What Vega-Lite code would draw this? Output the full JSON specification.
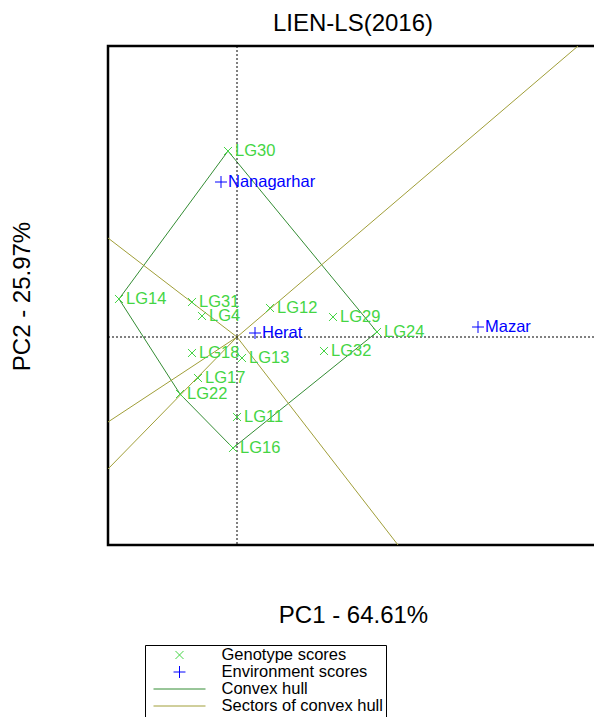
{
  "$schema": "https://vega.github.io/schema/vega-lite/v6.json",
  "width": 490,
  "height": 499,
  "autosize": {"type": "none"},
  "padding": {"left": 108, "top": 46, "right": 0, "bottom": 172},
  "title": {"text": "LIEN-LS(2016)", "fontSize": 24, "font": "Liberation Sans", "fontWeight": "normal", "anchor": "middle", "baseline": "bottom", "frame": "group", "offset": 13, "dy": 27, "color": "black"},
  "config": {"view": {"stroke": "black", "strokeWidth": 2.5}, "font": "Liberation Sans", "legend": {"strokeWidth": 1}},
  "datasets": {
    "scores": [
      {"name": "LG30", "x": -0.18, "y": 3.72, "type": "Genotype scores"},
      {"name": "LG14", "x": -2.36, "y": 0.76, "type": "Genotype scores"},
      {"name": "LG31", "x": -0.90, "y": 0.70, "type": "Genotype scores"},
      {"name": "LG4", "x": -0.70, "y": 0.42, "type": "Genotype scores"},
      {"name": "LG12", "x": 0.66, "y": 0.58, "type": "Genotype scores"},
      {"name": "LG29", "x": 1.92, "y": 0.40, "type": "Genotype scores"},
      {"name": "LG24", "x": 2.80, "y": 0.10, "type": "Genotype scores"},
      {"name": "LG32", "x": 1.74, "y": -0.28, "type": "Genotype scores"},
      {"name": "LG18", "x": -0.90, "y": -0.32, "type": "Genotype scores"},
      {"name": "LG13", "x": 0.10, "y": -0.42, "type": "Genotype scores"},
      {"name": "LG17", "x": -0.78, "y": -0.82, "type": "Genotype scores"},
      {"name": "LG22", "x": -1.14, "y": -1.14, "type": "Genotype scores"},
      {"name": "LG11", "x": 0.00, "y": -1.60, "type": "Genotype scores"},
      {"name": "LG16", "x": -0.08, "y": -2.22, "type": "Genotype scores"},
      {"name": "Nanagarhar", "x": -0.32, "y": 3.10, "type": "Environment scores"},
      {"name": "Mazar", "x": 4.82, "y": 0.20, "type": "Environment scores"},
      {"name": "Herat", "x": 0.36, "y": 0.08, "type": "Environment scores"}
    ],
    "segments": [
      {"x": -0.18, "y": 3.72, "x2": 2.80, "y2": 0.10, "type": "Convex hull"},
      {"x": 2.80, "y": 0.10, "x2": -0.08, "y2": -2.22, "type": "Convex hull"},
      {"x": -0.08, "y": -2.22, "x2": -1.14, "y2": -1.14, "type": "Convex hull"},
      {"x": -1.14, "y": -1.14, "x2": -2.36, "y2": 0.76, "type": "Convex hull"},
      {"x": -2.36, "y": 0.76, "x2": -0.18, "y2": 3.72, "type": "Convex hull"},
      {"x": 0, "y": 0, "x2": 6.82, "y2": 5.82, "type": "Sectors of convex hull"},
      {"x": 0, "y": 0, "x2": -2.58, "y2": 1.98, "type": "Sectors of convex hull"},
      {"x": 0, "y": 0, "x2": -2.58, "y2": -1.70, "type": "Sectors of convex hull"},
      {"x": 0, "y": 0, "x2": -2.58, "y2": -2.64, "type": "Sectors of convex hull"},
      {"x": 0, "y": 0, "x2": 3.22, "y2": -4.16, "type": "Sectors of convex hull"}
    ]
  },
  "layer": [
    {
      "data": {"name": "segments"},
      "mark": {"type": "rule", "strokeWidth": 1, "clip": true},
      "encoding": {
        "x": {"field": "x", "type": "quantitative", "scale": {"domain": [-2.58, 7.22], "nice": false, "zero": false},
          "axis": {"title": "PC1 - 64.61%", "labels": false, "ticks": false, "domain": false, "grid": false, "titleFontSize": 24, "titleFont": "Liberation Sans", "titleFontWeight": "normal", "titleColor": "black", "titleBaseline": "alphabetic", "titleY": 77}},
        "y": {"field": "y", "type": "quantitative", "scale": {"domain": [-4.16, 5.82], "nice": false, "zero": false},
          "axis": {"title": "PC2 - 25.97%", "labels": false, "ticks": false, "domain": false, "grid": false, "titleFontSize": 24, "titleFont": "Liberation Sans", "titleFontWeight": "normal", "titleColor": "black", "titleBaseline": "alphabetic", "titleX": -79, "titleY": 250, "titleAngle": -90}},
        "x2": {"field": "x2"},
        "y2": {"field": "y2"},
        "color": {"field": "type", "type": "nominal",
          "scale": {"domain": ["Genotype scores", "Environment scores", "Convex hull", "Sectors of convex hull"], "range": ["#44D544", "#0000FF", "#338C33", "#A09E38"]},
          "legend": {"title": null, "orient": "none", "legendX": 37, "legendY": 599, "strokeColor": "black", "padding": 2.5, "symbolSize": 2704, "symbolStrokeWidth": 1, "symbolOffset": 5.5, "labelOffset": 15.5, "labelFontSize": 16.5, "labelLimit": 400, "labelFont": "Liberation Sans", "labelColor": "black", "clipHeight": 15, "rowPadding": 0}}
      }
    },
    {
      "data": {"values": [{"v": 0}]},
      "mark": {"type": "rule", "strokeDash": [2, 2], "color": "black", "strokeWidth": 1},
      "encoding": {"x": {"datum": 0, "type": "quantitative"}}
    },
    {
      "data": {"values": [{"v": 0}]},
      "mark": {"type": "rule", "strokeDash": [2, 2], "color": "black", "strokeWidth": 1},
      "encoding": {"y": {"datum": 0, "type": "quantitative"}}
    },
    {
      "data": {"name": "scores"},
      "mark": {"type": "point", "filled": false, "opacity": 1, "strokeWidth": 1, "size": 2704},
      "encoding": {
        "x": {"field": "x", "type": "quantitative"},
        "y": {"field": "y", "type": "quantitative"},
        "color": {"field": "type", "type": "nominal",
          "legend": {"title": null, "orient": "none", "legendX": 37, "legendY": 599, "strokeColor": "black", "padding": 2.5, "symbolSize": 2704, "symbolStrokeWidth": 1, "symbolOffset": 5.5, "labelOffset": 15.5, "labelFontSize": 16.5, "labelLimit": 400, "labelFont": "Liberation Sans", "labelColor": "black", "clipHeight": 15, "rowPadding": 0}},
        "shape": {"field": "type", "type": "nominal",
          "scale": {"domain": ["Genotype scores", "Environment scores", "Convex hull", "Sectors of convex hull"], "range": ["M-0.154,-0.154L0.154,0.154M-0.154,0.154L0.154,-0.154", "M-0.23,0L0.23,0M0,-0.23L0,0.23", "stroke", "stroke"]},
          "legend": {"title": null, "orient": "none", "legendX": 37, "legendY": 599, "strokeColor": "black", "padding": 2.5, "symbolSize": 2704, "symbolStrokeWidth": 1, "symbolOffset": 5.5, "labelOffset": 15.5, "labelFontSize": 16.5, "labelLimit": 400, "labelFont": "Liberation Sans", "labelColor": "black", "clipHeight": 15, "rowPadding": 0}}
      }
    },
    {
      "data": {"name": "scores"},
      "mark": {"type": "text", "align": "left", "baseline": "middle", "dx": 7, "fontSize": 16.5, "font": "Liberation Sans"},
      "encoding": {
        "x": {"field": "x", "type": "quantitative"},
        "y": {"field": "y", "type": "quantitative"},
        "text": {"field": "name"},
        "color": {"condition": {"test": "datum.type === 'Environment scores'", "value": "#0000FF"}, "value": "#44D544"}
      }
    }
  ]
}
